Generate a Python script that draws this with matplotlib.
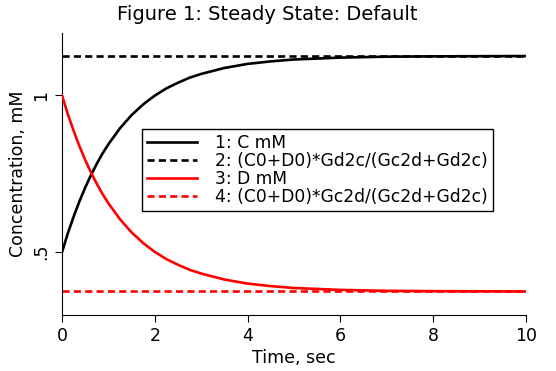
import matplotlib
matplotlib.use("Agg")
import matplotlib.pyplot as plt

# values
t = [0, 0.125, 0.25, 0.375, 0.5, 0.625, 0.75, 0.875, 1, 1.25, 1.5, 1.75,
     2, 2.25, 2.5, 2.75, 3, 3.5, 4, 4.5, 5, 6, 7, 8, 10]
c_mM = [0.5, 0.560, 0.613, 0.662, 0.706, 0.746, 0.782, 0.815, 0.844, 0.895,
        0.937, 0.971, 0.999, 1.022, 1.040, 1.056, 1.068, 1.087, 1.100, 1.108,
        1.114, 1.120, 1.123, 1.124, 1.125]
d_mM = [1.0, 0.940, 0.887, 0.838, 0.794, 0.754, 0.718, 0.685, 0.656, 0.605,
        0.563, 0.529, 0.501, 0.478, 0.460, 0.444, 0.432, 0.413, 0.400, 0.392,
        0.386, 0.380, 0.377, 0.376, 0.375]
c_ss = 1.125
d_ss = 0.375
labels = ["1: C mM", "2: (C0+D0)*Gd2c/(Gc2d+Gd2c)",
          "3: D mM", "4: (C0+D0)*Gc2d/(Gc2d+Gd2c)"]

plt.rcParams['font.family'] = ['DejaVu Sans']
fig = plt.figure(figsize=(5.56, 3.71), dpi=100)
ax = fig.add_axes([62/556, 1-315/371, 464/556, 282.5/371])

lw = 1.9
l1, = ax.plot(t, c_mM, color='black', lw=lw, zorder=3)
l2, = ax.plot([t[0], t[-1]], [c_ss, c_ss], color='black', lw=lw, dashes=(2.7, 1.6), zorder=2)
l3, = ax.plot(t, d_mM, color='red', lw=lw, zorder=3)
l4, = ax.plot([t[0], t[-1]], [d_ss, d_ss], color='red', lw=lw, dashes=(2.7, 1.6), zorder=2)

ax.set_xlim(0, 10)
ax.set_ylim(0.3, 1.2)
ax.set_xticks([0, 2, 4, 6, 8, 10])
ax.set_yticks([0.5, 1])
ax.set_yticklabels(['.5', '1'], rotation=90, va='center')
ax.tick_params(direction='out', length=5, width=0.8, labelsize=12.5)
for s in ['top', 'right']:
    ax.spines[s].set_visible(False)
ax.spines['left'].set_linewidth(0.8)
ax.spines['bottom'].set_linewidth(0.8)

ax.set_xlabel('Time, sec', fontsize=12.5, labelpad=3)
ax.set_ylabel('Concentration, mM', fontsize=12.5, labelpad=4)
fig.text(267/556, 1-15/371, 'Figure 1: Steady State: Default',
         ha='center', va='center', fontsize=14)

leg = ax.legend([l1, l2, l3, l4], labels, loc='upper left',
                bbox_to_anchor=(142/556, 1-129/371), bbox_transform=fig.transFigure,
                fontsize=12.3, frameon=True, fancybox=False, framealpha=1,
                edgecolor='black', handlelength=2.9, handletextpad=1.1,
                borderpad=0.3, labelspacing=0.0, borderaxespad=0)
leg.get_frame().set_linewidth(1.0)

fig.savefig('out.png', dpi=100)
